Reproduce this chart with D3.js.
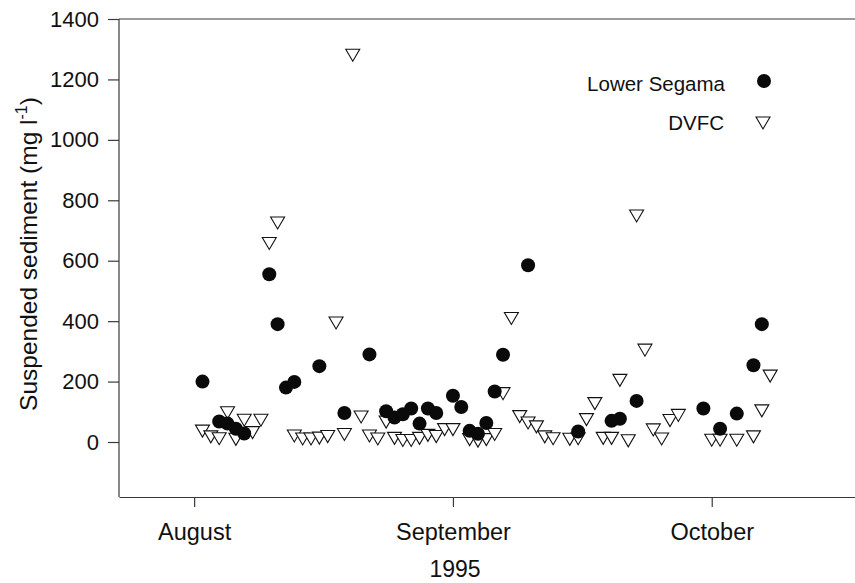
<!DOCTYPE html>
<html>
<head>
<meta charset="utf-8">
<script src="https://cdn.jsdelivr.net/npm/d3@7"></script>
<style>
  body { margin: 0; background: #fff; }
  svg { display: block; font-family: "Liberation Sans", Arial, sans-serif; }
</style>
</head>
<body>
<div class="container"></div>
<script>
// Lower Segama (filled circles)
var segamaDates = ["1995-08-02","1995-08-04","1995-08-05","1995-08-06","1995-08-07","1995-08-10","1995-08-11",
    "1995-08-12","1995-08-13","1995-08-16","1995-08-19","1995-08-22","1995-08-24","1995-08-25","1995-08-26",
    "1995-08-27","1995-08-28","1995-08-29","1995-08-30","1995-09-01","1995-09-02","1995-09-03","1995-09-04",
    "1995-09-05","1995-09-06","1995-09-07","1995-09-10","1995-09-16","1995-09-20","1995-09-21","1995-09-23",
    "1995-10-01","1995-10-03","1995-10-05","1995-10-07","1995-10-08"];
var segamaValues = [200, 68, 61, 44, 28, 555, 390,
    180, 199, 251, 96, 290, 102, 81, 92,
    111, 61, 111, 96, 153, 116, 37, 27,
    63, 167, 289, 585, 35, 70, 77, 136,
    111, 44, 94, 254, 390];

// DVFC (open down triangles)
var dvfcDates = ["1995-08-02","1995-08-03","1995-08-04","1995-08-05","1995-08-06","1995-08-07","1995-08-08",
    "1995-08-09","1995-08-10","1995-08-11","1995-08-13","1995-08-14","1995-08-15","1995-08-16","1995-08-17",
    "1995-08-18","1995-08-19","1995-08-20","1995-08-21","1995-08-22","1995-08-23","1995-08-24","1995-08-25",
    "1995-08-26","1995-08-27","1995-08-28","1995-08-29","1995-08-30","1995-08-31","1995-09-01","1995-09-03",
    "1995-09-04","1995-09-05","1995-09-06","1995-09-07","1995-09-08","1995-09-09","1995-09-10","1995-09-11",
    "1995-09-12","1995-09-13","1995-09-15","1995-09-16","1995-09-17","1995-09-18","1995-09-19","1995-09-20",
    "1995-09-21","1995-09-22","1995-09-23","1995-09-24","1995-09-25","1995-09-26","1995-09-27","1995-09-28",
    "1995-10-02","1995-10-03","1995-10-05","1995-10-07","1995-10-08","1995-10-09"];
var dvfcValues = [36, 17, 11, 97, 9, 72, 31,
    72, 657, 725, 20, 10, 10, 13, 18,
    394, 25, 1280, 83, 20, 10, 66, 12,
    5, 5, 12, 22, 18, 41, 41, 8,
    3, 8, 25, 160, 409, 84, 63, 50,
    17, 11, 9, 11, 74, 127, 12, 12,
    204, 4, 748, 304, 40, 10, 71, 88,
    6, 6, 6, 17, 103, 218];

var yTicks = [0, 200, 400, 600, 800, 1000, 1200, 1400];
// month ticks are evenly spaced (31 days apart) in the original
var monthTicks = ["1995-08-01", "1995-09-01", "1995-10-02"];
var monthLabels = ["August", "September", "October"];
var seriesNames = ["Lower Segama", "DVFC"];

var parse = d3.utcParse("%Y-%m-%d");
var w = 855, h = 583;

var svg = d3.select(".container")
    .append("svg")
    .attr("width", w)
    .attr("height", h);

var x = d3.scaleUtc()
    .domain([parse("1995-07-23"), parse("1995-10-20")])
    .range([119, 862]);

var y = d3.scaleLinear()
    .domain([-182, 1400])
    .range([497, 19]);

var axisColor = "#3a3a3a";

// y axis
var yAxis = svg.append("g")
    .attr("transform", "translate(119,0)")
    .call(d3.axisLeft(y).tickValues(yTicks).tickSize(11).tickPadding(9).tickFormat(d3.format("d")));
yAxis.select(".domain").remove();
yAxis.selectAll("line").attr("stroke", axisColor).attr("stroke-width", 1.2);
yAxis.selectAll("text").attr("font-size", 22).attr("fill", "#111")
    .attr("font-family", "Liberation Sans, Arial, sans-serif");

// frame lines: left, top
svg.append("line").attr("x1", 119).attr("x2", 119).attr("y1", y(1400)).attr("y2", y(-182))
    .attr("stroke", axisColor).attr("stroke-width", 1.2);
svg.append("line").attr("x1", 119).attr("x2", w).attr("y1", y(1400)).attr("y2", y(1400))
    .attr("stroke", axisColor).attr("stroke-width", 1.2);

// x axis
var xAxis = svg.append("g")
    .attr("transform", "translate(0," + y(-182) + ")")
    .call(d3.axisBottom(x)
        .tickValues(monthTicks.map(parse))
        .tickSizeInner(10)
        .tickSizeOuter(0)
        .tickPadding(16)
        .tickFormat(function(d, i) { return monthLabels[i]; }));
xAxis.select(".domain").attr("stroke", axisColor).attr("stroke-width", 1.2);
xAxis.selectAll("line").attr("stroke", axisColor).attr("stroke-width", 1.2);
xAxis.selectAll("text").attr("font-size", 23.5).attr("fill", "#111")
    .attr("font-family", "Liberation Sans, Arial, sans-serif");

svg.append("text")
    .attr("x", 455)
    .attr("y", 577)
    .attr("text-anchor", "middle")
    .attr("font-size", 23)
    .attr("fill", "#111")
    .text("1995");

// y title
var title = svg.append("text")
    .attr("transform", "translate(37,254)rotate(-90)")
    .attr("text-anchor", "middle")
    .attr("font-size", 24.5)
    .attr("fill", "#111");
title.append("tspan").text("Suspended sediment (mg l");
title.append("tspan").attr("font-size", 16).attr("dy", -10).text("-1");
title.append("tspan").attr("dy", 10).text(")");

var tri = "M-7,-6L7,-6L0,6Z";

var dvfc = dvfcDates.map(function(d, i) { return [parse(d), dvfcValues[i]]; });
var segama = segamaDates.map(function(d, i) { return [parse(d), segamaValues[i]]; });

svg.selectAll("path.dvfc")
    .data(dvfc)
    .enter()
    .append("path")
    .attr("class", "dvfc")
    .attr("d", tri)
    .attr("transform", function(d) { return "translate(" + x(d[0]) + "," + y(d[1]) + ")"; })
    .attr("fill", "#fff")
    .attr("stroke", "#111")
    .attr("stroke-width", 1.1);

svg.selectAll("circle.segama")
    .data(segama)
    .enter()
    .append("circle")
    .attr("class", "segama")
    .attr("cx", function(d) { return x(d[0]); })
    .attr("cy", function(d) { return y(d[1]); })
    .attr("r", 7)
    .attr("fill", "#0a0a0a");

// legend
svg.append("text").attr("x", 725).attr("y", 91).attr("text-anchor", "end")
    .attr("font-size", 20.5).attr("fill", "#111").text(seriesNames[0]);
svg.append("text").attr("x", 724).attr("y", 130).attr("text-anchor", "end")
    .attr("font-size", 20.5).attr("fill", "#111").text(seriesNames[1]);
svg.append("circle").attr("cx", 764).attr("cy", 81).attr("r", 7).attr("fill", "#0a0a0a");
svg.append("path").attr("d", tri).attr("transform", "translate(763,123)")
    .attr("fill", "#fff").attr("stroke", "#111").attr("stroke-width", 1.1);
</script>
</body>
</html>
